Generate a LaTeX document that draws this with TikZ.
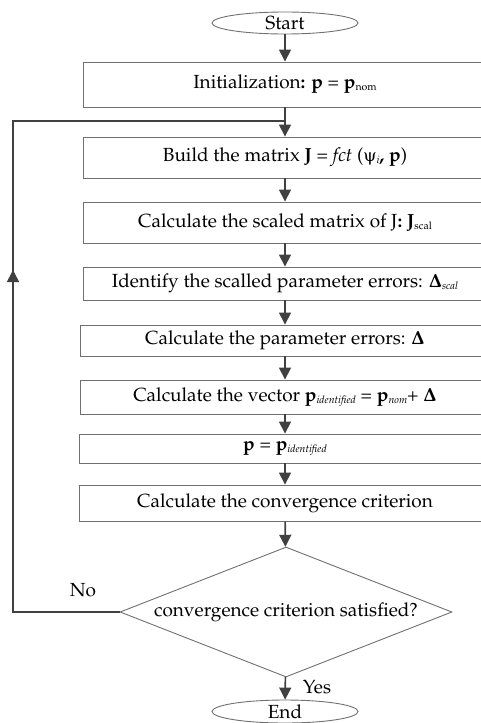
\documentclass[tikz,border=0pt]{standalone}
\usepackage{fontspec}
\newfontfamily\grk{DejaVu Serif}
\usepackage[T1]{fontenc}
\usepackage{mathpazo}
\usetikzlibrary{shapes.geometric,arrows.meta}
\definecolor{conncol}{HTML}{404040}
\definecolor{boxcol}{HTML}{707070}
\newcommand\sbu[1]{\raisebox{-0.2ex}{\fontsize{10.5}{11}\selectfont #1}}
\newcommand\fnt{\fontsize{19}{21}\selectfont}
\tikzset{
  box/.style={draw=boxcol, line width=0.9pt, inner sep=0pt, font=\fnt},
  term/.style={ellipse, draw=boxcol, line width=0.9pt, inner sep=0pt, minimum width=146pt, minimum height=22pt, font=\fnt},
  dec/.style={diamond, draw=boxcol, line width=0.9pt, inner sep=0pt, aspect=2.55, minimum width=332pt, minimum height=130pt, font=\fnt},
  conn/.style={draw=conncol, line width=1.6pt},
  arr/.style={conn, -{Triangle[length=12pt,width=12pt]}},
  lbl/.style={font=\fnt, inner sep=0pt}
}
\begin{document}
\begin{tikzpicture}[x=1pt,y=-1pt]
\useasboundingbox (0,0) rectangle (481,723);
\node[term] (start) at (285,23) {Start};
\node[box, minimum width=404pt, minimum height=45pt] (init) at (285,84.5) {Initialization\textbf{:} \textbf{p} = \textbf{p}\sbu{nom}};
\node[box, minimum width=404pt, minimum height=41pt] (build) at (285,157.5) {Build the matrix \textbf{J} = \textit{fct} ({\grk\fontsize{17}{19}\selectfont ψ}\sbu{\textit{i}}\textbf{,} \textbf{p})};
\node[box, minimum width=404pt, minimum height=41pt] (scal) at (285,222.5) {Calculate the scaled matrix of J\textbf{:} \textbf{J}\sbu{scal}};
\node[box, minimum width=404pt, minimum height=33pt] (ident) at (285,283.5) {Identify the scalled parameter errors: $\mathbf{\Delta}$\sbu{\textit{scal}}};
\node[box, minimum width=410pt, minimum height=31pt] (perr) at (285,340.5) {Calculate the parameter errors: $\mathbf{\Delta}$};
\node[box, minimum width=410pt, minimum height=34pt] (vec) at (285,397) {Calculate the vector \textbf{p}\sbu{\textit{identified}} = \textbf{p}\sbu{\textit{nom}}+ $\mathbf{\Delta}$};
\node[box, minimum width=412pt, minimum height=29pt] (peq) at (285,448.5) {\textbf{p} = \textbf{p}\sbu{\textit{identified}}};
\node[box, minimum width=412pt, minimum height=36pt] (conv) at (285,503) {Calculate the convergence criterion};
\node[dec] (dia) at (286,612) {convergence criterion satisfied?};
\node[term, minimum height=23pt] (end) at (285,711.5) {End};
\node[lbl] (no) at (83,590) {No};
\node[lbl] (yes) at (317,687) {Yes};
\coordinate (c1) at (13,612);
\coordinate (c2) at (13,121);
\coordinate (j) at (285,121);
\coordinate (ma) at (13,270);
\draw[arr] (start) -- (init);
\draw[arr] (init) -- (build);
\draw[conn] (dia.west) -- (c1) -- (c2) -- (j);
\draw[arr] (c1) -- (ma);
\draw[arr] (build) -- (scal);
\draw[arr] (scal) -- (ident);
\draw[arr] (ident) -- (perr);
\draw[arr] (perr) -- (vec);
\draw[arr] (vec) -- (peq);
\draw[arr] (peq) -- (conv);
\draw[arr] (conv) -- (dia);
\draw[arr] (dia) -- (end);
\end{tikzpicture}
\end{document}
